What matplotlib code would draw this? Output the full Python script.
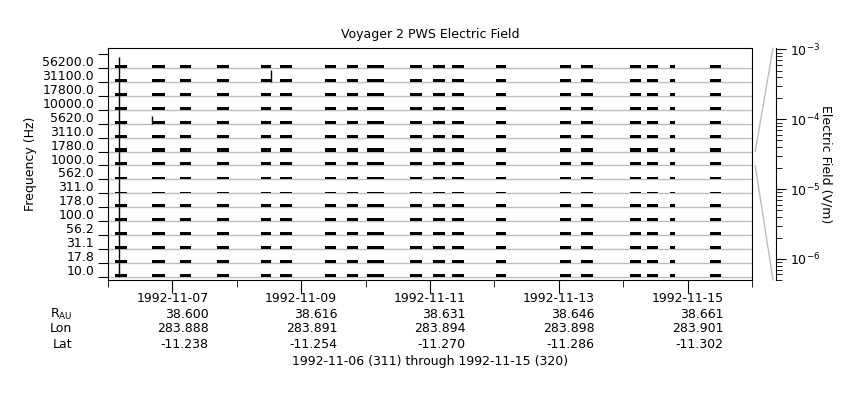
import matplotlib
matplotlib.use("Agg")
import matplotlib.pyplot as plt
from matplotlib.patches import ConnectionPatch
import numpy as np

plt.rcParams['font.family'] = ['DejaVu Sans']
plt.rcParams['font.size'] = 9

# channel centre frequencies, bottom row first
freq_labels = ['10.0', '17.8', '31.1', '56.2', '100.0', '178.0', '311.0', '562.0',
               '1000.0', '1780.0', '3110.0', '5620.0', '10000.0', '17800.0', '31100.0', '56200.0']

# typical electric field level of each channel during a burst (V/m)
chan_level = [2.6e-6, 2.6e-6, 2.6e-6, 2.6e-6, 2.9e-6, 2.6e-6, 1.2e-6, 1.5e-6,
              3.4e-6, 3.4e-6, 2.6e-6, 2.0e-6, 2.6e-6, 2.6e-6, 2.6e-6, 2.6e-6]

# data bursts, days since 1992-11-06 00:00
burst_start = [0.109, 0.679, 1.118, 1.693, 2.376, 2.671, 3.370, 3.707, 4.022, 4.689,
               5.047, 5.342, 6.025, 7.019, 7.345, 8.106, 8.370, 8.727, 9.348]
burst_end = [0.295, 0.885, 1.289, 1.879, 2.531, 2.862, 3.540, 3.887, 4.286, 4.876,
             5.233, 5.528, 6.180, 7.189, 7.531, 8.276, 8.540, 8.804, 9.519]

# isolated spikes: (channel index, day, field V/m)
spike_chan = [0, 1, 2, 3, 4, 5, 6, 7, 8, 9, 10, 11, 12, 13, 14, 15, 14, 11]
spike_day = [0.17, 0.17, 0.17, 0.17, 0.17, 0.17, 0.17, 0.17, 0.17, 0.17, 0.17, 0.17,
             0.17, 0.17, 0.17, 0.17, 2.53, 0.688]
spike_val = [1.0e-3, 1.0e-3, 1.0e-3, 1.0e-3, 1.0e-3, 1.0e-3, 1.0e-3, 1.0e-3, 1.0e-3,
             1.0e-3, 1.0e-3, 1.0e-3, 1.0e-3, 1.0e-3, 1.0e-3, 2.8e-4, 3.9e-4, 3.6e-5]

tick_dates = ['1992-11-07', '1992-11-09', '1992-11-11', '1992-11-13', '1992-11-15']
tick_days = [1, 3, 5, 7, 9]
r_au = ['38.600', '38.616', '38.631', '38.646', '38.661']
lon = ['283.888', '283.891', '283.894', '283.898', '283.901']
lat = ['-11.238', '-11.254', '-11.270', '-11.286', '-11.302']

e_min, e_max = 5e-7, 1.05e-3
ref_chan = 8


def row_height(e):
    return (np.log10(e) - np.log10(e_min)) / (np.log10(e_max) - np.log10(e_min))


fig = plt.figure(figsize=(8.6, 4), dpi=100)
W, H = 860, 400
ax = fig.add_axes([108 / W, 120 / H, 644 / W, 232 / H])

n = len(freq_labels)
for i in range(n):
    ax.axhline(i, color='#bdbdbd', lw=1, zorder=1)
    xr = [(s, e - s) for s, e in zip(burst_start, burst_end)]
    ax.broken_barh(xr, (i, row_height(chan_level[i])), facecolor='black',
                   edgecolor='none', zorder=2)

for c, d, v in zip(spike_chan, spike_day, spike_val):
    ax.vlines(d, c, c + row_height(v), color='black', lw=1, zorder=3)

ax.set_xlim(0, 10)
ax.set_ylim(-0.237, 16.45)

ax.set_yticks(range(n + 1))
ax.set_yticklabels([])
ax.set_yticks(np.arange(n) + 0.5, minor=True)
ax.set_yticklabels(freq_labels, minor=True)
ax.tick_params(axis='y', which='major', length=7, direction='out')
ax.tick_params(axis='y', which='minor', length=0, pad=10)
ax.set_ylabel('Frequency (Hz)')

ax.set_xticks(tick_days)
ax.set_xticklabels(['%s\n%s\n%s\n%s' % t for t in zip(tick_dates, r_au, lon, lat)])
for lbl in ax.get_xticklabels():
    lbl.set_multialignment('right')
ax.set_xticks([0, 2, 4, 6, 8, 10], minor=True)
ax.tick_params(axis='x', which='major', length=9, pad=0)
ax.tick_params(axis='x', which='minor', length=5)
ax.set_title('Voyager 2 PWS Electric Field', fontsize=9, pad=7)

# row labels for the ephemeris lines
fig.text(72 / W, 1 - 314 / H, r'R$_{\mathregular{AU}}$', ha='right', va='center')
fig.text(72 / W, 1 - 329 / H, 'Lon', ha='right', va='center')
fig.text(72 / W, 1 - 344 / H, 'Lat', ha='right', va='center')
fig.text(430 / W, 1 - 362 / H, '1992-11-06 (311) through 1992-11-15 (320)',
         ha='center', va='center')

# right hand scale for the reference channel
axr = fig.add_axes([770 / W, 120 / H, 6 / W, 232 / H])
axr.set_yscale('log')
axr.set_ylim(e_min, e_max)
axr.set_xticks([])
for s in ['left', 'top', 'bottom']:
    axr.spines[s].set_visible(False)
axr.patch.set_visible(False)
axr.yaxis.tick_right()
axr.yaxis.set_label_position('right')
axr.tick_params(axis='y', which='major', length=7, pad=3)
axr.tick_params(axis='y', which='minor', length=4)
axr.set_ylabel('Electric Field (V/m)', rotation=270, labelpad=9)

for ya, yb in [(ref_chan + 1, 1), (ref_chan, 0)]:
    con = ConnectionPatch(xyA=(1.005, ya), coordsA=ax.get_yaxis_transform(),
                          xyB=(0.5, yb), coordsB=axr.transAxes,
                          color='#bdbdbd', lw=1)
    fig.add_artist(con)

fig.savefig('out.png', dpi=100)
